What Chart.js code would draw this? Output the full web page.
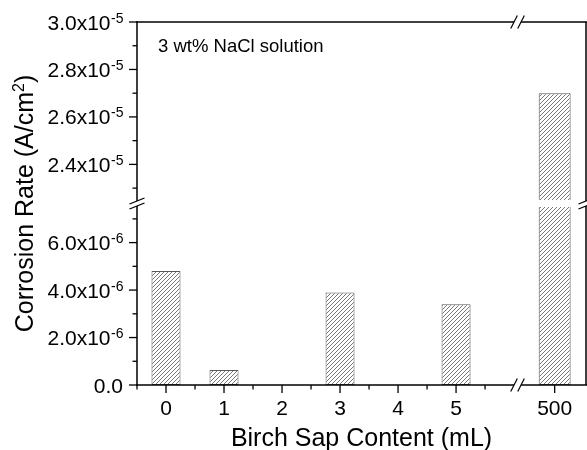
<!DOCTYPE html>
<html><head><meta charset="utf-8">
<script src="https://cdn.jsdelivr.net/npm/chart.js@4.4.0/dist/chart.umd.min.js"></script>
<style>html,body{margin:0;padding:0;background:#fff;}canvas{display:block;}</style>
</head><body>
<canvas id="c" width="587" height="450"></canvas>
<script>
// ---- data ----
const categories = ['0', '1', '2', '3', '4', '5', '500'];
const corrosionRate = [4.8e-6, 0.63e-6, null, 3.9e-6, null, 3.4e-6, 2.70e-5];
const yLowMajor = [0, 2e-6, 4e-6, 6e-6];
const yLowMajorLabels = ['0.0', '2.0x10^-6', '4.0x10^-6', '6.0x10^-6'];
const yLowMinor = [1e-6, 3e-6, 5e-6, 7e-6];
const yHighMajor = [2.4e-5, 2.6e-5, 2.8e-5, 3.0e-5];
const yHighMajorLabels = ['2.4x10^-5', '2.6x10^-5', '2.8x10^-5', '3.0x10^-5'];
const yHighMinor = [2.3e-5, 2.5e-5, 2.7e-5, 2.9e-5];
const xTitle = 'Birch Sap Content (mL)';
const yTitle = ['Corrosion Rate (A/cm', '2', ')'];
const noteText = '3 wt% NaCl solution';

// ---- axis configuration ----
const Y_LOW_RANGE = [0, 7.5e-6];
const Y_HIGH_RANGE = [2.25e-5, 3.0e-5];
const BREAK_PAD = 0.0197;           // fraction of each segment left blank at the break
const X_RANGE = [-0.5, 7.24];
const X_BREAK_AFTER = 5;            // index of last category before the x break
const X_BREAK_GAP = 0.7;            // extra axis units taken by the x break
const X_BREAK_MARK = 6.06;          // where the x break marks sit (axis units)
const X_MINOR = [-0.5, 0.5, 1.5, 2.5, 3.5, 4.5, 5.5];

const xOf = i => i > X_BREAK_AFTER ? i + X_BREAK_GAP : i;
const lowSpan = Y_LOW_RANGE[1] - Y_LOW_RANGE[0];
const highSpan = Y_HIGH_RANGE[1] - Y_HIGH_RANGE[0];

const FONT = '"Liberation Sans", Arial, sans-serif';
const canvas = document.getElementById('c');
const ctx0 = canvas.getContext('2d');

const hatch = (() => {
  const c = document.createElement('canvas');
  c.width = 4; c.height = 4;
  const g = c.getContext('2d');
  g.fillStyle = '#fff'; g.fillRect(0, 0, 4, 4);
  g.strokeStyle = '#555'; g.lineWidth = 0.8;
  g.beginPath();
  g.moveTo(0, 4); g.lineTo(4, 0);
  g.moveTo(-1, 1); g.lineTo(1, -1);
  g.moveTo(3, 5); g.lineTo(5, 3);
  g.stroke();
  return ctx0.createPattern(c, 'repeat');
})();

const leftIdx = categories.map((c, i) => i).filter(i => i <= X_BREAK_AFTER);
const rightIdx = categories.map((c, i) => i).filter(i => i > X_BREAK_AFTER);
const lowPiece = i => corrosionRate[i] == null ? null : Math.min(corrosionRate[i], Y_LOW_RANGE[1]);
const highPiece = i => (corrosionRate[i] != null && corrosionRate[i] > Y_HIGH_RANGE[0]) ? corrosionRate[i] : null;

const barStyle = {
  backgroundColor: hatch, borderColor: '#5a5a5a', borderWidth: 1,
  grouped: false, categoryPercentage: 1
};

const datasets = [
  Object.assign({}, barStyle, {
    label: 'left', yAxisID: 'yLow', barPercentage: 0.5, borderSkipped: false,
    data: leftIdx.map(i => ({x: xOf(i), y: lowPiece(i)}))
  }),
  Object.assign({}, barStyle, {
    label: 'right-low', yAxisID: 'yLow', barPercentage: 0.55,
    borderSkipped: rightIdx.map(i => corrosionRate[i] > Y_LOW_RANGE[1] ? 'top' : false),
    data: rightIdx.map(i => ({x: xOf(i), y: lowPiece(i)}))
  }),
  Object.assign({}, barStyle, {
    label: 'right-high', yAxisID: 'yHigh', barPercentage: 0.55, borderSkipped: 'bottom',
    base: Y_HIGH_RANGE[0],
    data: rightIdx.map(i => ({x: xOf(i), y: highPiece(i)}))
  })
];

function line(ctx, x1, y1, x2, y2) {
  ctx.beginPath(); ctx.moveTo(x1, y1); ctx.lineTo(x2, y2); ctx.stroke();
}

function drawSci(ctx, label, xRight, y) {
  const parts = label.split('^');
  const MAIN = '21px ' + FONT, SUP = '14px ' + FONT;
  ctx.font = MAIN;
  const w1 = ctx.measureText(parts[0]).width;
  let w2 = 0;
  if (parts[1]) { ctx.font = SUP; w2 = ctx.measureText(parts[1]).width; }
  const x0 = xRight - w1 - w2;
  const base = y + 7.5;
  ctx.font = MAIN; ctx.fillText(parts[0], x0, base);
  if (parts[1]) { ctx.font = SUP; ctx.fillText(parts[1], x0 + w1 + 0.5, base - 7); }
}

const axesPlugin = {
  id: 'brokenAxes',
  afterDatasetsDraw(chart) {
    const ctx = chart.ctx, a = chart.chartArea;
    const xS = chart.scales.x, yL = chart.scales.yLow, yH = chart.scales.yHigh;
    const L = a.left, R = a.right, T = a.top, B = a.bottom;
    const yBreak = (yH.getPixelForValue(Y_HIGH_RANGE[0]) + yL.getPixelForValue(Y_LOW_RANGE[1])) / 2;
    const xBreak = xS.getPixelForValue(X_BREAK_MARK);
    ctx.save();
    ctx.strokeStyle = '#000';
    ctx.fillStyle = '#000';
    ctx.lineWidth = 1.5;
    // frame
    line(ctx, L, T - 0.75, L, B + 0.75);
    line(ctx, L - 0.75, B, R + 1, B);
    line(ctx, L - 0.75, T, R + 1, T);
    line(ctx, R, T, R, B);
    // y ticks
    ctx.lineWidth = 1.3;
    yLowMajor.forEach(v => { const y = yL.getPixelForValue(v); line(ctx, L - 8, y, L, y); });
    yHighMajor.forEach(v => { const y = yH.getPixelForValue(v); line(ctx, L - 8, y, L, y); });
    yLowMinor.forEach(v => { const y = yL.getPixelForValue(v); line(ctx, L - 4.5, y, L, y); });
    yHighMinor.forEach(v => { const y = yH.getPixelForValue(v); line(ctx, L - 4.5, y, L, y); });
    // x ticks
    categories.forEach((c, i) => { const x = xS.getPixelForValue(xOf(i)); line(ctx, x, B, x, B + 8); });
    X_MINOR.forEach(v => { const x = xS.getPixelForValue(v); line(ctx, x, B, x, B + 4.5); });

    // break marks on vertical axes
    [L, R].forEach(x => {
      ctx.fillStyle = '#fff';
      ctx.fillRect(x - 1.2, yBreak - 2.5, 2.4, 5);
      ctx.lineWidth = 1.2;
      [-2.5, 2.5].forEach(d => line(ctx, x - 7.5, yBreak + d + 3, x + 7.5, yBreak + d - 3));
    });
    // break marks on horizontal axes
    [T, B].forEach(y => {
      ctx.fillStyle = '#fff';
      ctx.fillRect(xBreak - 3.5, y - 1.2, 7, 2.4);
      ctx.lineWidth = 1.2;
      [-3.5, 3.5].forEach(d => line(ctx, xBreak + d - 3.3, y + 6.5, xBreak + d + 3.3, y - 6.5));
    });

    // y tick labels
    ctx.fillStyle = '#000';
    ctx.textAlign = 'left';
    ctx.textBaseline = 'alphabetic';
    yLowMajor.forEach((v, i) => drawSci(ctx, yLowMajorLabels[i], L - 14, yL.getPixelForValue(v)));
    yHighMajor.forEach((v, i) => drawSci(ctx, yHighMajorLabels[i], L - 14, yH.getPixelForValue(v)));

    // x tick labels
    ctx.font = '21px ' + FONT;
    ctx.textAlign = 'center';
    categories.forEach((c, i) => ctx.fillText(c, xS.getPixelForValue(xOf(i)), B + 30));

    // x title
    ctx.font = '25px ' + FONT;
    ctx.fillText(xTitle, (L + R) / 2, 446);

    // y title (rotated, with superscript)
    ctx.save();
    ctx.translate(33, (T + B) / 2);
    ctx.rotate(-Math.PI / 2);
    ctx.textAlign = 'left';
    const MAIN = '25px ' + FONT, SUP = '16px ' + FONT;
    ctx.font = MAIN; const t1 = ctx.measureText(yTitle[0]).width, t3 = ctx.measureText(yTitle[2]).width;
    ctx.font = SUP; const t2 = ctx.measureText(yTitle[1]).width;
    let u = -(t1 + t2 + t3) / 2;
    ctx.font = MAIN; ctx.fillText(yTitle[0], u, 0); u += t1;
    ctx.font = SUP; ctx.fillText(yTitle[1], u, -9); u += t2;
    ctx.font = MAIN; ctx.fillText(yTitle[2], u, 0);
    ctx.restore();

    // note
    ctx.textAlign = 'left';
    ctx.font = '18.5px ' + FONT;
    ctx.fillText(noteText, 158, 52);
    ctx.restore();
  }
};

new Chart(canvas, {
  type: 'bar',
  data: { datasets },
  options: {
    responsive: false,
    devicePixelRatio: 1,
    animation: false,
    layout: { padding: { left: 137, right: 1, top: 22, bottom: 65 } },
    plugins: { legend: { display: false }, tooltip: { enabled: false } },
    scales: {
      x: { type: 'linear', min: X_RANGE[0], max: X_RANGE[1], display: false, offset: false },
      yHigh: {
        type: 'linear', position: 'left', stack: 'y', stackWeight: 1, weight: 2,
        min: Y_HIGH_RANGE[0] - highSpan * BREAK_PAD, max: Y_HIGH_RANGE[1], display: false
      },
      yLow: {
        type: 'linear', position: 'left', stack: 'y', stackWeight: 1, weight: 1,
        min: Y_LOW_RANGE[0], max: Y_LOW_RANGE[1] + lowSpan * BREAK_PAD, display: false
      }
    }
  },
  plugins: [axesPlugin]
});
</script>
</body></html>
